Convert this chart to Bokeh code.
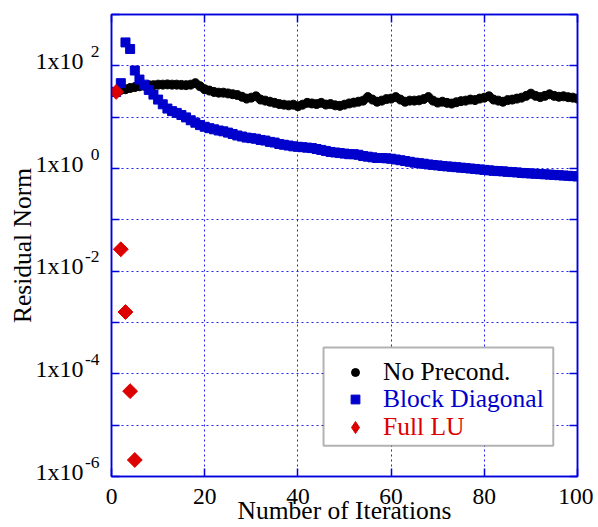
from bokeh.plotting import figure
from bokeh.models import (Range1d, FixedTicker, LogAxis, LinearAxis, Legend, LegendItem,
                          BoxAnnotation, CustomJSTickFormatter)
from bokeh.embed import file_html
from bokeh.resources import INLINE

# ---------------- data ----------------
iterations = list(range(1, 101))
no_precond = [31, 34, 35, 37, 38.5, 40, 41, 42, 42, 43,
              43, 43.5, 43, 43, 42.5, 42, 43, 46, 40, 35,
              33, 31, 30, 30, 29, 28, 27, 25, 23, 24,
              25.5, 22, 21, 20, 19, 18, 17.5, 17, 17.5, 16.3,
              17.5, 19, 18.5, 18, 19, 17.6, 18, 17, 16.6, 17.5,
              18.5, 19.2, 20, 21, 24.6, 22, 20, 21, 22.5, 23,
              24.6, 22, 20, 21, 21, 21.3, 22.5, 24.6, 21, 19.2,
              20, 19, 18.4, 19.5, 20.5, 21, 22, 21.5, 23, 24,
              25.5, 22, 21, 20, 21.5, 22, 23, 24, 26, 28.7,
              26, 24.6, 26, 27.9, 26, 25, 25.5, 24.5, 24, 23]
block_diag = [31, 46, 286, 213, 81, 54, 43, 34, 27.5, 22,
              17.8, 14.7, 13.1, 12.1, 11.0, 9.9, 8.7, 7.8, 7.0, 6.5,
              6.1, 5.8, 5.5, 5.3, 5.0, 4.7, 4.4, 4.2, 4.0, 3.9,
              3.8, 3.6, 3.5, 3.3, 3.2, 3.0, 2.9, 2.8, 2.7, 2.65,
              2.6, 2.55, 2.5, 2.4, 2.3, 2.2, 2.1, 2.05, 2.0, 1.95,
              1.9, 1.9, 1.85, 1.75, 1.7, 1.65, 1.6, 1.6, 1.58, 1.55,
              1.5, 1.45, 1.4, 1.35, 1.3, 1.27, 1.24, 1.2, 1.17, 1.15,
              1.12, 1.1, 1.08, 1.06, 1.04, 1.02, 1.0, 0.98, 0.96, 0.94,
              0.92, 0.9, 0.89, 0.88, 0.86, 0.85, 0.84, 0.82, 0.81, 0.8,
              0.79, 0.78, 0.77, 0.76, 0.75, 0.74, 0.73, 0.72, 0.71, 0.70]
full_lu_iter = [1, 2, 3, 4, 5]
full_lu = [31, 0.0267, 1.6e-3, 4.6e-5, 2.1e-6]

series_names = ["No Precond.", "Block Diagonal", "Full LU"]
x_ticks = [0, 20, 40, 60, 80, 100]
x_grid = [20, 40, 60, 80]
y_decades = [-6, -5, -4, -3, -2, -1, 0, 1, 2, 3]
y_label_exps = [-6, -4, -2, 0, 2]          # labelled decades (ascending)
y_label_base = "1x10"
y_label_sups = ["-6", "-4", "-2", "0", "2"]
x_title = "Number of Iterations"
y_title = "Residual Norm"

# ---------------- style ----------------
FONT = "Liberation Serif"
AX = "#0000dd"
GRID = "#2222ee"
BLACK = "#000000"
BLUE = "#0000cc"
RED = "#dd0000"
SUP_RAISE = 0.282    # exponent label raised by this fraction of a decade
BASE_RAISE = 0.094   # base label raised slightly, like the original

p = figure(width=593, height=527, y_axis_type="log",
           x_range=Range1d(0, 100), y_range=Range1d(1e-6, 1e3),
           output_backend="svg", toolbar_location=None,
           min_border_left=111, min_border_right=16, min_border_top=14, min_border_bottom=48)
p.background_fill_color = "white"
p.border_fill_color = "white"
p.outline_line_color = AX
p.outline_line_width = 1.5

dec_ticks = [10.0 ** k for k in y_decades]
empty_fmt = CustomJSTickFormatter(code="return ''")

# bottom axis
xa = p.xaxis[0]
xa.ticker = FixedTicker(ticks=x_ticks, minor_ticks=[])
xa.major_label_text_font = FONT
xa.major_label_text_font_size = "23.5px"
xa.major_label_text_color = "black"
xa.major_label_standoff = 12
xa.axis_label = x_title
xa.axis_label_text_font = FONT
xa.axis_label_text_font_size = "25.5px"
xa.axis_label_text_font_style = "normal"
xa.axis_label_text_color = "black"
xa.axis_label_standoff = -11

# left: innermost axis carries the frame line and inward ticks
ya = p.yaxis[0]
ya.ticker = FixedTicker(ticks=dec_ticks, minor_ticks=[])
ya.formatter = empty_fmt
ya.major_label_text_font_size = "1px"
ya.major_label_standoff = 0

# left: exponent labels
sup_axis = LogAxis(ticker=FixedTicker(ticks=[10.0 ** (e + SUP_RAISE) for e in y_label_exps], minor_ticks=[]),
                   formatter=CustomJSTickFormatter(args=dict(labels=y_label_sups),
                                                   code="return labels[index]"),
                   major_label_text_font=FONT, major_label_text_font_size="17.5px",
                   major_label_text_color="black", major_label_standoff=12,
                   axis_line_color=None, major_tick_line_color=None, minor_tick_line_color=None,
                   major_tick_in=0, major_tick_out=0, minor_tick_in=0, minor_tick_out=0)
p.add_layout(sup_axis, "left")

# left: base labels and axis title
base_axis = LogAxis(ticker=FixedTicker(ticks=[10.0 ** (e + BASE_RAISE) for e in y_label_exps], minor_ticks=[]),
                    formatter=CustomJSTickFormatter(args=dict(base=y_label_base), code="return base"),
                    major_label_text_font=FONT, major_label_text_font_size="24px",
                    major_label_text_color="black", major_label_standoff=-2,
                    axis_line_color=None, major_tick_line_color=None, minor_tick_line_color=None,
                    major_tick_in=0, major_tick_out=0, minor_tick_in=0, minor_tick_out=0,
                    axis_label=y_title, axis_label_text_font=FONT,
                    axis_label_text_font_size="25.5px", axis_label_text_font_style="normal",
                    axis_label_text_color="black", axis_label_standoff=-4)
p.add_layout(base_axis, "left")

ra = LogAxis(ticker=FixedTicker(ticks=dec_ticks, minor_ticks=[]), formatter=empty_fmt,
             major_label_text_font_size="1px", major_label_standoff=0)
ta = LinearAxis(ticker=FixedTicker(ticks=x_ticks, minor_ticks=[]), formatter=empty_fmt,
                major_label_text_font_size="1px", major_label_standoff=0)
p.add_layout(ra, "right")
p.add_layout(ta, "above")

for ax in [xa, ya, ra, ta]:
    ax.axis_line_color = AX
    ax.axis_line_width = 1.5
    ax.major_tick_line_color = AX
    ax.major_tick_line_width = 1.5
    ax.major_tick_in = 8
    ax.major_tick_out = 0
    ax.minor_tick_line_color = None

p.xgrid.ticker = FixedTicker(ticks=x_grid, minor_ticks=[])
p.ygrid.ticker = FixedTicker(ticks=[10.0 ** k for k in y_decades[1:-1]], minor_ticks=[])
p.grid.grid_line_color = GRID
p.grid.grid_line_width = 1
p.grid.grid_line_dash = "2 3"

# ---------------- series ----------------
r_black = p.scatter(iterations, no_precond, marker="circle", size=9,
                    fill_color=BLACK, line_color=BLACK)
r_blue = p.scatter(iterations, block_diag, marker="square", size=9,
                   fill_color=BLUE, line_color=BLUE)
r_red = p.scatter(full_lu_iter, full_lu, marker="square", angle=0.7853981634, size=10.5,
                  fill_color=RED, line_color=RED)
# legend sample for the red series (legends never draw angled markers); draws nothing in the plot
r_red_key = p.scatter(x=[float("nan")], y=[float("nan")], marker="diamond", size=12,
                      fill_color=RED, line_color=RED)

# ---------------- legend ----------------
p.add_layout(BoxAnnotation(left=45.5, right=94.8, bottom=10 ** -5.40, top=10 ** -3.485,
                           fill_color="white", fill_alpha=1.0,
                           line_color="black", line_width=2, level="annotation"))

specs = [(r_black, series_names[0], BLACK, 20, 89),
         (r_blue, series_names[1], BLUE, 22, 62),
         (r_red_key, series_names[2], RED, 32, 34)]
for rend, name, col, gw, by in specs:
    lg = Legend(items=[LegendItem(label=name, renderers=[rend])],
                location=(244 - gw // 2, by),
                border_line_color=None, background_fill_alpha=0.0,
                padding=0, margin=0, spacing=0,
                glyph_width=gw, glyph_height=30, label_height=30,
                label_standoff=28 - gw // 2,
                label_text_font=FONT, label_text_font_size="25.5px",
                label_text_color=col)
    p.add_layout(lg)

open("out.html", "w").write(file_html(p, INLINE))
